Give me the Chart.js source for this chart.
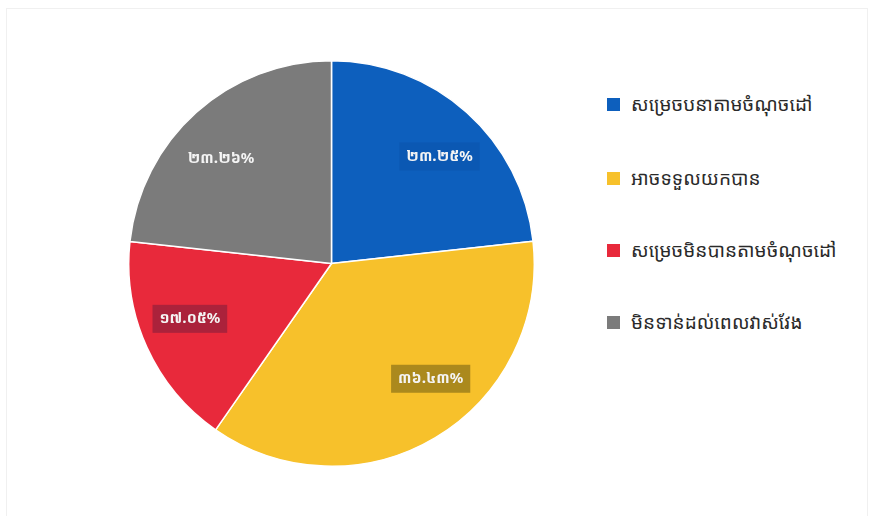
<!DOCTYPE html>
<html>
<head>
<meta charset="utf-8">
<script src="https://cdn.jsdelivr.net/npm/chart.js@4"></script>
<style>
  html, body { margin: 0; padding: 0; background: #fff; }
  body { width: 873px; height: 516px; position: relative; overflow: hidden;
         font-family: "Noto Sans Khmer", "Khmer OS", "Noto Sans", sans-serif; }
  #frame { position: absolute; left: 6px; top: 8px; width: 862px; height: 520px;
           border: 1px solid #f0f0f0; box-sizing: border-box; }
  #wrap { position: absolute; left: 126px; top: 58px; width: 411px; height: 411px; }
  #legend { position: absolute; left: 607px; top: 0; }
  .item { position: absolute; left: 0; white-space: nowrap; display: flex; align-items: center; }
  .box { width: 13px; height: 13px; margin-right: 11px; }
  .txt { font-size: 19px; color: #2a2a2a; }
</style>
</head>
<body>
<div id="frame"></div>
<div id="wrap"><canvas id="pie"></canvas></div>
<div id="legend"></div>
<script>
// categories (legend labels)
const categories = ["សម្រេចបនាតាមចំណុចដៅ", "អាចទទួលយកបាន", "សម្រេចមិនបានតាមចំណុចដៅ", "មិនទាន់ដល់ពេលវាស់វែង"];
// percent values
const values = [23.25, 36.43, 17.05, 23.26];
// labels as printed, Khmer digits
const valueLabels = ["២៣.២៥%", "៣៦.៤៣%", "១៧.០៥%", "២៣.២៦%"];

const sliceColors = ["#0d5fbd", "#f7c12b", "#e8293b", "#7b7b7b"];
const labelBoxColors = ["rgba(0,40,110,0.12)", "rgba(120,100,20,0.6)", "rgba(120,30,60,0.55)", "rgba(0,0,0,0)"];
// small nudges (degrees) so labels sit where the original put them
const labelShift = [3.4, -10, 3.1, -4.7];

//legend rows
const legendTop = [104, 178, 250, 322];
const legend = document.getElementById("legend");
categories.forEach((c, i) => {
  const row = document.createElement("div");
  row.className = "item";
  row.style.top = (legendTop[i] - 13) + "px";
  row.style.height = "26px";
  row.innerHTML = `<div class="box" style="background:${sliceColors[i]}"></div><span class="txt">${c}</span>`;
  legend.appendChild(row);
});

//draw value labels inside each slice
const sliceLabels = {
  id: "sliceLabels",
  afterDatasetsDraw(chart) {
    const ctx = chart.ctx;
    const meta = chart.getDatasetMeta(0);
    ctx.save();
    ctx.font = "bold 15px 'Noto Sans Khmer', 'Khmer OS', 'DejaVu Sans', sans-serif";
    ctx.textAlign = "center";
    ctx.textBaseline = "middle";
    meta.data.forEach((arc, i) => {
      const p = arc.getProps(["x", "y", "startAngle", "endAngle", "outerRadius"], true);
      const mid = (p.startAngle + p.endAngle) / 2 + labelShift[i] * Math.PI / 180;
      const r = p.outerRadius * 0.75;
      const x = p.x + Math.cos(mid) * r;
      const y = p.y + Math.sin(mid) * r;
      const w = ctx.measureText(valueLabels[i]).width + 14;
      ctx.fillStyle = labelBoxColors[i];
      ctx.fillRect(x - w / 2, y - 14, w, 28);
      ctx.fillStyle = "#f4f4f4";
      ctx.fillText(valueLabels[i], x, y);
    });
    ctx.restore();
  }
};

new Chart(document.getElementById("pie"), {
  type: "pie",
  data: {
    labels: categories,
    datasets: [{
      data: values,
      backgroundColor: sliceColors,
      borderColor: "#ffffff",
      borderWidth: 1.5
    }]
  },
  options: {
    responsive: true,
    maintainAspectRatio: false,
    animation: false,
    layout: { padding: 2 },
    plugins: {
      legend: { display: false },
      tooltip: { enabled: false }
    }
  },
  plugins: [sliceLabels]
});
</script>
</body>
</html>
